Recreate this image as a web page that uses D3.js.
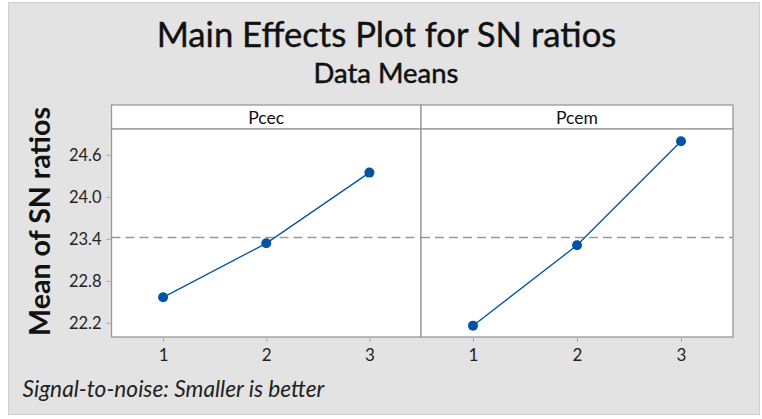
<!DOCTYPE html>
<html><head><meta charset="utf-8">
<script src="https://cdn.jsdelivr.net/npm/d3@7"></script>
<style>body{margin:0;background:#fff}svg{display:block}</style>
</head><body>
<script>
const levels = [1, 2, 3];
const factors = ["Pcec", "Pcem"];
const pcecMeans = [22.567, 23.338, 24.348];
const pcemMeans = [22.162, 23.310, 24.795];
const overallMean = 23.42;
const yTicks = [22.2, 22.8, 23.4, 24.0, 24.6];
const titleText = "Main Effects Plot for SN ratios";
const subtitleText = "Data Means";
const yLabel = "Mean of SN ratios";
const footText = "Signal-to-noise: Smaller is better";

(function () {
const W = 762, H = 419;
const FONT = "Lato, 'Open Sans', sans-serif";
const blue = "#0054a6";
const svg = d3.select("body").append("svg").attr("width", W).attr("height", H);

svg.append("rect").attr("x", 8.5).attr("y", 2.5).attr("width", 751).attr("height", 412)
  .attr("fill", "#e3e3e3").attr("stroke", "#cfcfcf").attr("stroke-width", 1);

function fitText(sel, targetW) {
  const w = sel.node().getComputedTextLength();
  const fs = parseFloat(sel.attr("font-size"));
  sel.attr("font-size", fs * targetW / w);
}

const t = svg.append("text").attr("x", 386.5).attr("y", 47).attr("text-anchor", "middle")
  .attr("font-family", FONT).attr("font-size", 30).attr("fill", "#111")
  .attr("stroke", "#111").attr("stroke-width", 0.4).text(titleText);
fitText(t, 460);
const st = svg.append("text").attr("x", 386).attr("y", 83).attr("text-anchor", "middle")
  .attr("font-family", FONT).attr("font-size", 21).attr("fill", "#111")
  .attr("stroke", "#111").attr("stroke-width", 0.5).text(subtitleText);
fitText(st, 145);

const yl = svg.append("text").attr("transform", "translate(50,221.5) rotate(-90)")
  .attr("text-anchor", "middle").attr("font-family", FONT).attr("font-weight", 700)
  .attr("font-size", 26).attr("fill", "#111").text(yLabel);
fitText(yl, 229);

const ft = svg.append("text").attr("x", 22.5).attr("y", 397).attr("font-family", FONT)
  .attr("font-style", "italic").attr("font-size", 16).attr("fill", "#222").text(footText);
fitText(ft, 302);

const plotTop = 129, plotBottom = 337, stripTop = 105;
const y = d3.scaleLinear().domain([22.0, 24.971]).range([plotBottom, plotTop]);
const panels = [
  {name: factors[0], x0: 111.5, x1: 421, values: pcecMeans},
  {name: factors[1], x0: 421, x1: 733, values: pcemMeans}
];

panels.forEach((p, i) => {
  const x = d3.scaleLinear().domain([0.5, 3.5]).range([p.x0, p.x1]);
  const g = svg.append("g");
  g.append("rect").attr("x", p.x0).attr("y", stripTop).attr("width", p.x1 - p.x0).attr("height", plotTop - stripTop)
    .attr("fill", "#fff").attr("stroke", "#999").attr("stroke-width", 1.3);
  g.append("text").attr("x", (p.x0 + p.x1) / 2).attr("y", 124).attr("text-anchor", "middle")
    .attr("font-family", FONT).attr("font-size", 17.5).attr("fill", "#111").text(p.name);
  g.append("rect").attr("x", p.x0).attr("y", plotTop).attr("width", p.x1 - p.x0).attr("height", plotBottom - plotTop)
    .attr("fill", "#fff").attr("stroke", "#999").attr("stroke-width", 1.3);
  g.append("line").attr("x1", p.x0).attr("x2", p.x1).attr("y1", y(overallMean)).attr("y2", y(overallMean))
    .attr("stroke", "#999").attr("stroke-width", 1.5).attr("stroke-dasharray", "9,5");
  const xa = g.append("g").attr("transform", `translate(0,${plotBottom})`)
    .call(d3.axisBottom(x).tickValues(levels).tickFormat(d3.format("d")).tickSize(4).tickSizeOuter(0));
  xa.select(".domain").remove();
  xa.selectAll("line").attr("stroke", "#aaa").attr("transform", "translate(0,1)");
  xa.selectAll("text").attr("font-family", FONT).attr("font-size", 17).attr("fill", "#222").attr("dy", "1.0em");
  if (i === 0) {
    const ya = g.append("g").attr("transform", `translate(${p.x0 - 1},0)`)
      .call(d3.axisLeft(y).tickValues(yTicks).tickFormat(d3.format(".1f")).tickSize(4).tickSizeOuter(0));
    ya.select(".domain").remove();
    ya.selectAll("line").attr("stroke", "#aaa");
    ya.selectAll("text").attr("font-family", FONT).attr("font-size", 16.5).attr("fill", "#222").attr("x", -9);
  }
  const pts = levels.map((l, k) => [l, p.values[k]]);
  g.append("path").datum(pts).attr("fill", "none").attr("stroke", blue).attr("stroke-width", 1.3)
    .attr("d", d3.line().x(d => x(d[0])).y(d => y(d[1])));
  g.selectAll("circle").data(pts).enter().append("circle")
    .attr("cx", d => x(d[0])).attr("cy", d => y(d[1])).attr("r", 5).attr("fill", blue);
});
})();
</script>
</body></html>
